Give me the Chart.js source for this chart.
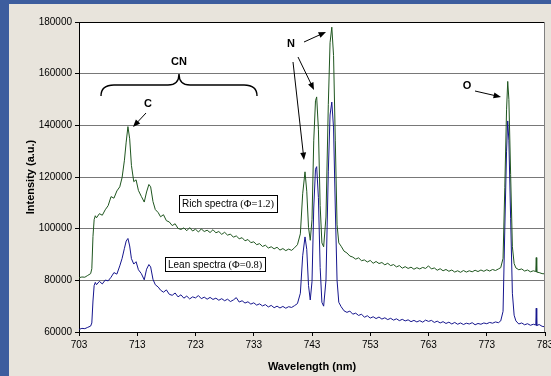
<!DOCTYPE html>
<html>
<head>
<meta charset="utf-8">
<script src="https://cdn.jsdelivr.net/npm/chart.js@4.4.0/dist/chart.umd.min.js"></script>
<style>
  html, body { margin: 0; padding: 0; background: #e8e4dc; }
  canvas { display: block; }
</style>
</head>
<body>
<canvas id="spectraChart" width="551" height="376"></canvas>
<script>
// Emission spectra, rich vs lean flame

const xTickLabels = [703, 713, 723, 733, 743, 753, 763, 773, 783];
const yTickLabels = [60000, 80000, 100000, 120000, 140000, 160000, 180000];

const wavelengths = [
    703, 703.5, 704, 704.5, 705, 705.2, 705.4, 705.6, 705.8, 706,
    706.5, 707, 707.5, 708, 708.5, 709, 709.5, 710, 710.4, 710.8,
    711.1, 711.4, 711.7, 712, 712.4, 712.8, 713.2, 713.7, 714.2, 714.6,
    715, 715.3, 715.7, 716.1, 716.6, 717, 717.5, 718, 718.5, 719,
    719.5, 720, 720.5, 721, 721.5, 722, 722.5, 723, 723.5, 724,
    724.5, 725, 725.5, 726, 726.5, 727, 727.5, 728, 728.5, 729,
    729.5, 730, 730.5, 731, 731.5, 732, 732.5, 733, 733.5, 734,
    734.5, 735, 735.5, 736, 736.5, 737, 737.5, 738, 738.5, 739,
    739.5, 740, 740.5, 741, 741.4, 741.8, 742.1, 742.4, 742.7, 743,
    743.3, 743.6, 743.8, 744.1, 744.4, 744.7, 745, 745.4, 745.8, 746.1,
    746.4, 746.7, 747, 747.3, 747.6, 748, 748.5, 749, 749.5, 750,
    750.5, 751, 751.5, 752, 752.5, 753, 753.5, 754, 754.5, 755,
    755.5, 756, 756.5, 757, 757.5, 758, 758.5, 759, 759.5, 760,
    760.5, 761, 761.5, 762, 762.5, 763, 763.5, 764, 764.5, 765,
    765.5, 766, 766.5, 767, 767.5, 768, 768.5, 769, 769.5, 770,
    770.5, 771, 771.5, 772, 772.5, 773, 773.5, 774, 774.5, 775,
    775.4, 775.8, 776.1, 776.4, 776.6, 776.8, 777.1, 777.4, 777.7, 778,
    778.5, 779, 779.5, 780, 780.5, 781, 781.42, 781.5, 781.58, 782,
    782.5, 783
];

const richSpectrum = [
    81000, 81300, 81200, 81900, 82600, 84500, 97000, 103500, 105000, 104200,
    105800, 105200, 107300, 108900, 112400, 111800, 114600, 116200, 119800, 126500,
    133500, 139500, 134800, 124500, 118200, 118900, 114800, 112500, 110300, 114200,
    117100, 116200, 110500, 107400, 106200, 104600, 105400, 103100, 102600, 101200,
    101900, 100100, 99700, 100300, 99200, 100400, 99100, 99800, 98700, 99900,
    98900, 99400, 98500, 99600, 98400, 98900, 97800, 98600, 97500, 97900,
    96700, 97200, 96100, 96500, 95300, 95800, 94600, 94900, 93800, 94200,
    93100, 93600, 92500, 93000, 92200, 92800, 91700, 92300, 91500, 92100,
    91600, 92600, 93800, 98000, 113500, 122000, 114500, 100500, 95500, 103500,
    134000, 149500, 151000, 138500, 109000, 94500, 93000, 104500, 148000, 172000,
    178000, 167000, 134000, 101500, 94500, 93200, 91300, 90600, 89400, 89000,
    88200, 88700, 87600, 87900, 87100, 87700, 86600, 87300, 86500, 86900,
    86000, 86600, 85700, 86100, 85200, 85700, 84700, 85300, 84600, 85100,
    84300, 84900, 84400, 85000, 84600, 85600, 84400, 84800, 83900, 84500,
    83700, 84200, 83500, 84000, 83200, 83700, 83100, 83800, 83200, 83700,
    83300, 83900, 83400, 84000, 83500, 84100, 83600, 84200, 83800, 84400,
    84900, 88500, 116000, 146000, 157000, 150000, 121000, 93000, 86500, 84800,
    84100, 84400, 83600, 84000, 83300, 83700, 83400, 88800, 83200, 83000,
    82600, 82500
];

const leanSpectrum = [
    61000, 61400, 61300, 61800, 62300, 63500, 72000, 78000, 79200, 78300,
    79600, 78600, 80100, 79800, 81200, 83000, 82400, 85600, 88500, 92400,
    95200, 96200, 93300, 88400, 86300, 87200, 84100, 82600, 80200, 84300,
    86100, 85200, 80400, 78300, 77400, 76200, 75400, 76300, 74600, 74200,
    75100, 73600, 74400, 73100, 73900, 72800, 73600, 73200, 74100, 72900,
    73500, 72700, 73400, 72600, 73100, 72300, 72900, 72100, 72700, 71800,
    72400, 73300, 71600, 72100, 71200, 71700, 70800, 71300, 70400, 70900,
    70100, 70600, 69700, 70300, 69400, 70000, 69300, 69900, 69200, 69800,
    69500, 70200, 71000, 75000, 89500, 96800, 92000, 78000, 72400, 79500,
    108000, 123000, 124000, 112000, 85000, 71500, 70000, 80000, 122000, 144000,
    149000, 139000, 108000, 80000, 71500, 69800, 68200, 67600, 68100, 66900,
    67300, 66400, 66900, 65700, 66300, 65400, 65900, 65200, 65800, 65000,
    65500, 64800, 65300, 64600, 65100, 64400, 64900, 64300, 64700, 64000,
    64500, 63900, 64400, 63800, 64600, 64100, 64500, 63700, 64200, 63500,
    64000, 63300, 63800, 63100, 63700, 63000, 63500, 62900, 63400, 63100,
    63600, 62800, 63300, 63000, 63500, 63200, 63700, 63400, 63900, 63600,
    64300, 68000, 100000, 130000, 141700, 134000, 104000, 75000, 66500, 64300,
    63100, 63500, 62800, 63200, 62600, 63000, 62700, 69200, 62500, 62900,
    62200, 62000
];

const richColor = '#1f561f';
const leanColor = '#16168e';

function toPoints(values) {
    return wavelengths.map((w, i) => ({ x: w, y: values[i] }));
}

function drawArrow(ctx, x1, y1, x2, y2) {
    const angle = Math.atan2(y2 - y1, x2 - x1);
    const head = 8;
    ctx.beginPath();
    ctx.moveTo(x1, y1);
    ctx.lineTo(x2 - Math.cos(angle) * head * 0.8, y2 - Math.sin(angle) * head * 0.8);
    ctx.stroke();
    ctx.beginPath();
    ctx.moveTo(x2, y2);
    ctx.lineTo(x2 - head * Math.cos(angle - 0.38), y2 - head * Math.sin(angle - 0.38));
    ctx.lineTo(x2 - head * Math.cos(angle + 0.38), y2 - head * Math.sin(angle + 0.38));
    ctx.closePath();
    ctx.fill();
}

function drawLabelBox(ctx, x, y, h, main, phi) {
    const sans = '10px "Liberation Sans", Arial, sans-serif';
    const serif = '10.5px "Liberation Serif", "Times New Roman", serif';
    ctx.font = sans;
    const mw = ctx.measureText(main).width;
    ctx.font = serif;
    const pw = ctx.measureText(phi).width;
    const w = Math.round(mw + pw + 6);

    ctx.fillStyle = '#ffffff';
    ctx.fillRect(x, y, w, h);
    ctx.strokeStyle = '#000';
    ctx.lineWidth = 1;
    ctx.strokeRect(x + 0.5, y + 0.5, w, h);
    ctx.fillStyle = '#000';
    ctx.textAlign = 'left';
    ctx.textBaseline = 'middle';
    ctx.font = sans;
    ctx.fillText(main, x + 3, y + h / 2 + 1);
    ctx.font = serif;
    ctx.fillText(phi, x + 3 + mw, y + h / 2 + 1);
}

const backgroundPlugin = {
    id: 'background',
    beforeDraw(chart) {
        const ctx = chart.ctx;
        const a = chart.chartArea;
        ctx.save();
        ctx.fillStyle = '#e8e4dc';
        ctx.fillRect(0, 0, chart.width, chart.height);
        ctx.fillStyle = '#3d5d9e';
        ctx.fillRect(0, 0, 9, chart.height);
        ctx.fillRect(0, 0, chart.width, 4);
        ctx.fillStyle = '#ffffff';
        ctx.fillRect(a.left, a.top, a.right - a.left, a.bottom - a.top);
        ctx.restore();
    }
};

const annotationPlugin = {
    id: 'annotations',
    afterDraw(chart) {
        const ctx = chart.ctx;
        const a = chart.chartArea;
        ctx.save();

        // plot frame
        ctx.strokeStyle = '#000';
        ctx.lineWidth = 1;
        ctx.beginPath();
        ctx.moveTo(a.left, a.top + 0.5);
        ctx.lineTo(a.right, a.top + 0.5);
        ctx.stroke();
        ctx.strokeStyle = '#808080';
        ctx.beginPath();
        ctx.moveTo(a.right - 0.5, a.top);
        ctx.lineTo(a.right - 0.5, a.bottom);
        ctx.stroke();

        // CN brace
        ctx.strokeStyle = '#000';
        ctx.lineWidth = 1.4;
        ctx.beginPath();
        ctx.moveTo(101, 96);
        ctx.quadraticCurveTo(101, 85, 114, 85);
        ctx.lineTo(168, 85);
        ctx.quadraticCurveTo(179, 85, 179, 74);
        ctx.quadraticCurveTo(179, 85, 190, 85);
        ctx.lineTo(244, 85);
        ctx.quadraticCurveTo(257, 85, 257, 96);
        ctx.stroke();

        ctx.fillStyle = '#000';
        ctx.font = 'bold 11px "Liberation Sans", Arial, sans-serif';
        ctx.textAlign = 'center';
        ctx.textBaseline = 'middle';
        ctx.fillText('CN', 179, 62);
        ctx.fillText('C', 148, 104);
        ctx.fillText('N', 291, 44);
        ctx.fillText('O', 467, 86);

        ctx.lineWidth = 1;
        drawArrow(ctx, 146, 113, 133, 127);
        drawArrow(ctx, 304, 42, 326, 32);
        drawArrow(ctx, 298, 57, 314, 90);
        drawArrow(ctx, 293, 62, 304, 160);
        drawArrow(ctx, 475, 91, 501, 97);

        drawLabelBox(ctx, 179, 195, 17, 'Rich spectra ', '(\u03A6=1.2)');
        drawLabelBox(ctx, 165, 257, 14, 'Lean spectra ', '(\u03A6=0.8)');

        ctx.restore();
    }
};

const ctx = document.getElementById('spectraChart');

new Chart(ctx, {
    type: 'line',
    data: {
        datasets: [
            {
                label: 'Rich spectra (\u03A6=1.2)',
                data: toPoints(richSpectrum),
                borderColor: richColor,
                borderWidth: 1,
                pointRadius: 0,
                tension: 0,
                fill: false
            },
            {
                label: 'Lean spectra (\u03A6=0.8)',
                data: toPoints(leanSpectrum),
                borderColor: leanColor,
                borderWidth: 1,
                pointRadius: 0,
                tension: 0,
                fill: false
            }
        ]
    },
    options: {
        responsive: false,
        animation: false,
        devicePixelRatio: 1,
        layout: {
            padding: { left: 9, top: 22, right: 6, bottom: 0 }
        },
        plugins: {
            legend: { display: false },
            tooltip: { enabled: false }
        },
        scales: {
            x: {
                type: 'linear',
                min: 703,
                max: 783,
                afterBuildTicks: (scale) => {
                    scale.ticks = xTickLabels.map(v => ({ value: v }));
                },
                afterFit: (scale) => {
                    scale.height = 44;
                    scale.paddingLeft = 0;
                    scale.paddingRight = 0;
                },
                ticks: {
                    color: '#000',
                    font: { family: '"Liberation Sans", Arial, sans-serif', size: 10 },
                    padding: 3,
                    maxRotation: 0,
                    autoSkip: false
                },
                grid: {
                    drawOnChartArea: false,
                    drawTicks: true,
                    tickLength: 4,
                    tickColor: '#000'
                },
                border: { color: '#000', width: 1 },
                title: {
                    display: true,
                    text: 'Wavelength (nm)',
                    color: '#000',
                    font: { family: '"Liberation Sans", Arial, sans-serif', size: 11, weight: 'bold' },
                    padding: { top: 0, bottom: 2 }
                }
            },
            y: {
                min: 60000,
                max: 180000,
                afterBuildTicks: (scale) => {
                    scale.ticks = yTickLabels.map(v => ({ value: v }));
                },
                afterFit: (scale) => {
                    scale.width = 70;
                    scale.paddingTop = 0;
                    scale.paddingBottom = 0;
                },
                ticks: {
                    color: '#000',
                    font: { family: '"Liberation Sans", Arial, sans-serif', size: 10 },
                    padding: 3,
                    callback: (v) => String(v)
                },
                grid: {
                    color: '#787878',
                    lineWidth: 1,
                    drawTicks: true,
                    tickLength: 4,
                    tickColor: '#000'
                },
                border: { color: '#000', width: 1 },
                title: {
                    display: true,
                    text: 'Intensity (a.u.)',
                    color: '#000',
                    font: { family: '"Liberation Sans", Arial, sans-serif', size: 11, weight: 'bold' },
                    padding: { top: 15, bottom: 0 }
                }
            }
        }
    },
    plugins: [backgroundPlugin, annotationPlugin]
});
</script>
</body>
</html>
